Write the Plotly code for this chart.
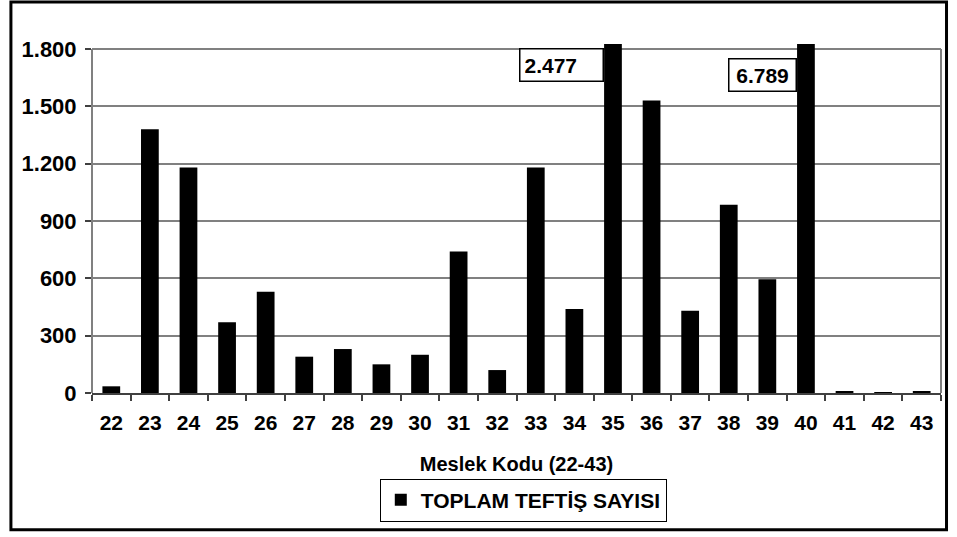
import plotly.graph_objects as go

categories = ["22", "23", "24", "25", "26", "27", "28", "29", "30", "31", "32",
              "33", "34", "35", "36", "37", "38", "39", "40", "41", "42", "43"]
values = [35, 1380, 1180, 370, 530, 190, 230, 150, 200, 740, 120,
          1180, 440, 2477, 1530, 430, 985, 595, 6789, 10, 5, 10]
y_tickvals = [0, 300, 600, 900, 1200, 1500, 1800]
y_ticktext = ["0", "300", "600", "900", "1.200", "1.500", "1.800"]
series_name = "TOPLAM TEFTİŞ SAYISI"
x_title = "Meslek Kodu (22-43)"
clipped_labels = {"35": ("2.477", 1717, 74, "left"), "40": ("6.789", 1665, 58, "center")}

FONT = "Liberation Sans, Arial, sans-serif"

fig = go.Figure()
fig.add_trace(go.Bar(
    x=categories, y=values, name=series_name,
    marker=dict(color="black", line=dict(width=0)),
    showlegend=True,
))

for cat, (txt, yv, w, al) in clipped_labels.items():
    fig.add_annotation(
        x=categories.index(cat), y=yv, xref="x", yref="y", text=txt, showarrow=False,
        xanchor="right", yanchor="middle", xshift=-9,
        font=dict(family=FONT, size=21, color="black", weight="bold"),
        bordercolor="black", borderwidth=1.5, borderpad=4, bgcolor="white",
        width=w, align=al,
    )

# plot-area frame lines (left axis and right border up to top gridline)
fig.add_shape(type="line", xref="paper", yref="y", x0=0, x1=0, y0=0, y1=1800,
              line=dict(color="#808080", width=2))
fig.add_shape(type="line", xref="paper", yref="y", x0=1, x1=1, y0=0, y1=1800,
              line=dict(color="#808080", width=2))
# outer chart border
fig.add_shape(type="rect", xref="paper", yref="paper",
              x0=-0.0955, x1=1.0065, y0=-0.392, y1=1.12,
              line=dict(color="black", width=3), layer="below")

fig.update_layout(
    width=957, height=537,
    margin=dict(l=92, r=16, t=44, b=144, autoexpand=False),
    paper_bgcolor="white", plot_bgcolor="white",
    font=dict(family=FONT, size=21, color="black", weight="bold"),
    bargap=0.54,
    xaxis=dict(
        type="category", tickson="boundaries", ticks="outside", ticklen=6,
        tickcolor="#404040", tickwidth=1.5, showgrid=False, tickangle=0,
        showline=True, linecolor="#404040", linewidth=1.5, automargin=False,
        range=[-0.5, len(categories) - 0.5], ticklabelstandoff=10,
        tickfont=dict(family=FONT, size=21, color="black", weight="bold"),
        title=dict(text=x_title, standoff=24,
                   font=dict(family=FONT, size=20, color="black", weight="bold")),
    ),
    yaxis=dict(
        range=[0, 1826], tickvals=y_tickvals, ticktext=y_ticktext,
        ticks="outside", ticklen=6, tickcolor="#404040", tickwidth=1.5,
        showgrid=True, gridcolor="#808080", gridwidth=1.5, automargin=False,
        zeroline=False, showline=False, ticklabelstandoff=4,
        tickfont=dict(family=FONT, size=22, color="black", weight="bold"),
    ),
    legend=dict(
        orientation="h", x=0.508, xanchor="center", y=-0.245, yanchor="top",
        bordercolor="black", borderwidth=1, bgcolor="white",
        font=dict(family=FONT, size=21, color="black", weight="bold"),
        itemwidth=30,
    ),
)

fig.write_html("out.html", config={"displayModeBar": False},
               post_script="document.body.style.margin='0';document.body.style.overflow='hidden';")
